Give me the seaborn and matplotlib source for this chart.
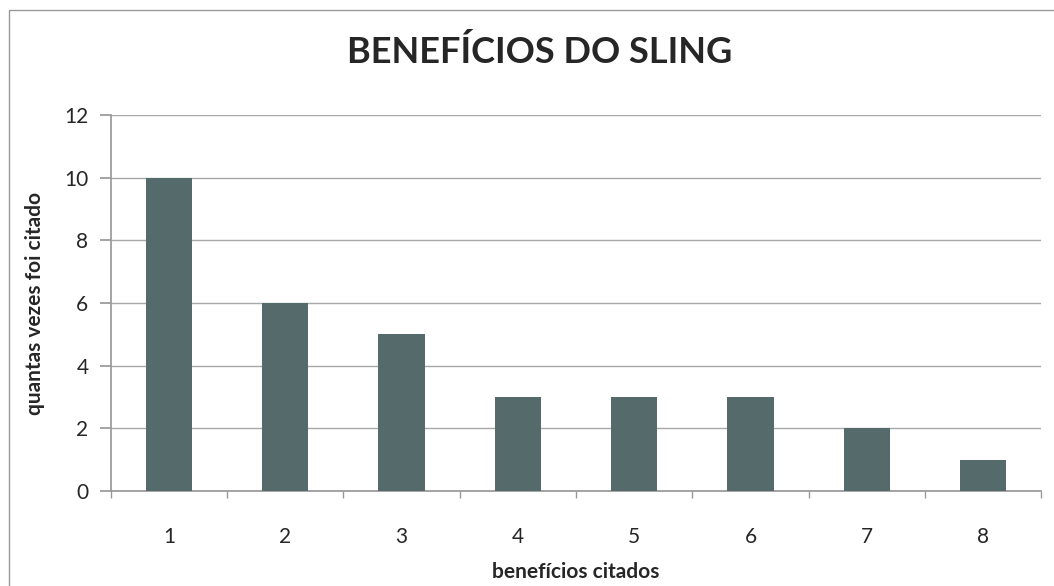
import matplotlib
matplotlib.use("Agg")
import matplotlib.pyplot as plt
import seaborn as sns
import pandas as pd
import numpy as np

# data
beneficios = ["1", "2", "3", "4", "5", "6", "7", "8"]
vezes = [10, 6, 5, 3, 3, 3, 2, 1]

df = pd.DataFrame({"beneficio": beneficios, "vezes": vezes})

sns.set_theme(style="white")
plt.rcParams["font.family"] = ["Lato", "DejaVu Sans"]

fig = plt.figure(figsize=(10.54, 5.86), dpi=100)
ax = fig.add_axes([0.105, 0.162, 0.883, 0.642])

sns.barplot(data=df, x="beneficio", y="vezes", color="#556b6b", width=0.4,
            saturation=1, linewidth=0, ax=ax, zorder=3)

ax.set_ylim(0, 12)
ax.set_yticks(np.arange(0, 13, 2))
ax.yaxis.grid(True, color="#a8a8a8", linewidth=1, zorder=0)
ax.set_xlim(-0.5, len(beneficios) - 0.5)

for s in ["top", "right"]:
    ax.spines[s].set_visible(False)
ax.spines["left"].set_color("#999999")
ax.spines["bottom"].set_color("#999999")

# tick marks between categories like Excel
ax.set_xticks(np.arange(-0.5, len(beneficios), 1), minor=True)
ax.tick_params(axis="x", which="minor", length=5, color="#999999", direction="out", bottom=True)
ax.tick_params(axis="x", which="major", length=0, pad=26, labelsize=15)
ax.tick_params(axis="y", which="major", length=8, color="#999999", direction="out", left=True,
               pad=8, labelsize=15)

ax.set_xlabel("benefícios citados", fontsize=15, fontweight="bold", labelpad=11)
ax.set_ylabel("quantas vezes foi citado", fontsize=15, fontweight="bold", labelpad=14)
fig.suptitle("BENEFÍCIOS DO SLING", fontsize=26, fontweight="bold", y=0.94, x=0.512)

# outer frame of the scanned chart
fig.patches.append(plt.Rectangle((0.009, -0.05), 1.2, 1.033, transform=fig.transFigure,
                                 fill=False, edgecolor="#999999", linewidth=1))

fig.savefig("out.png", dpi=100)
